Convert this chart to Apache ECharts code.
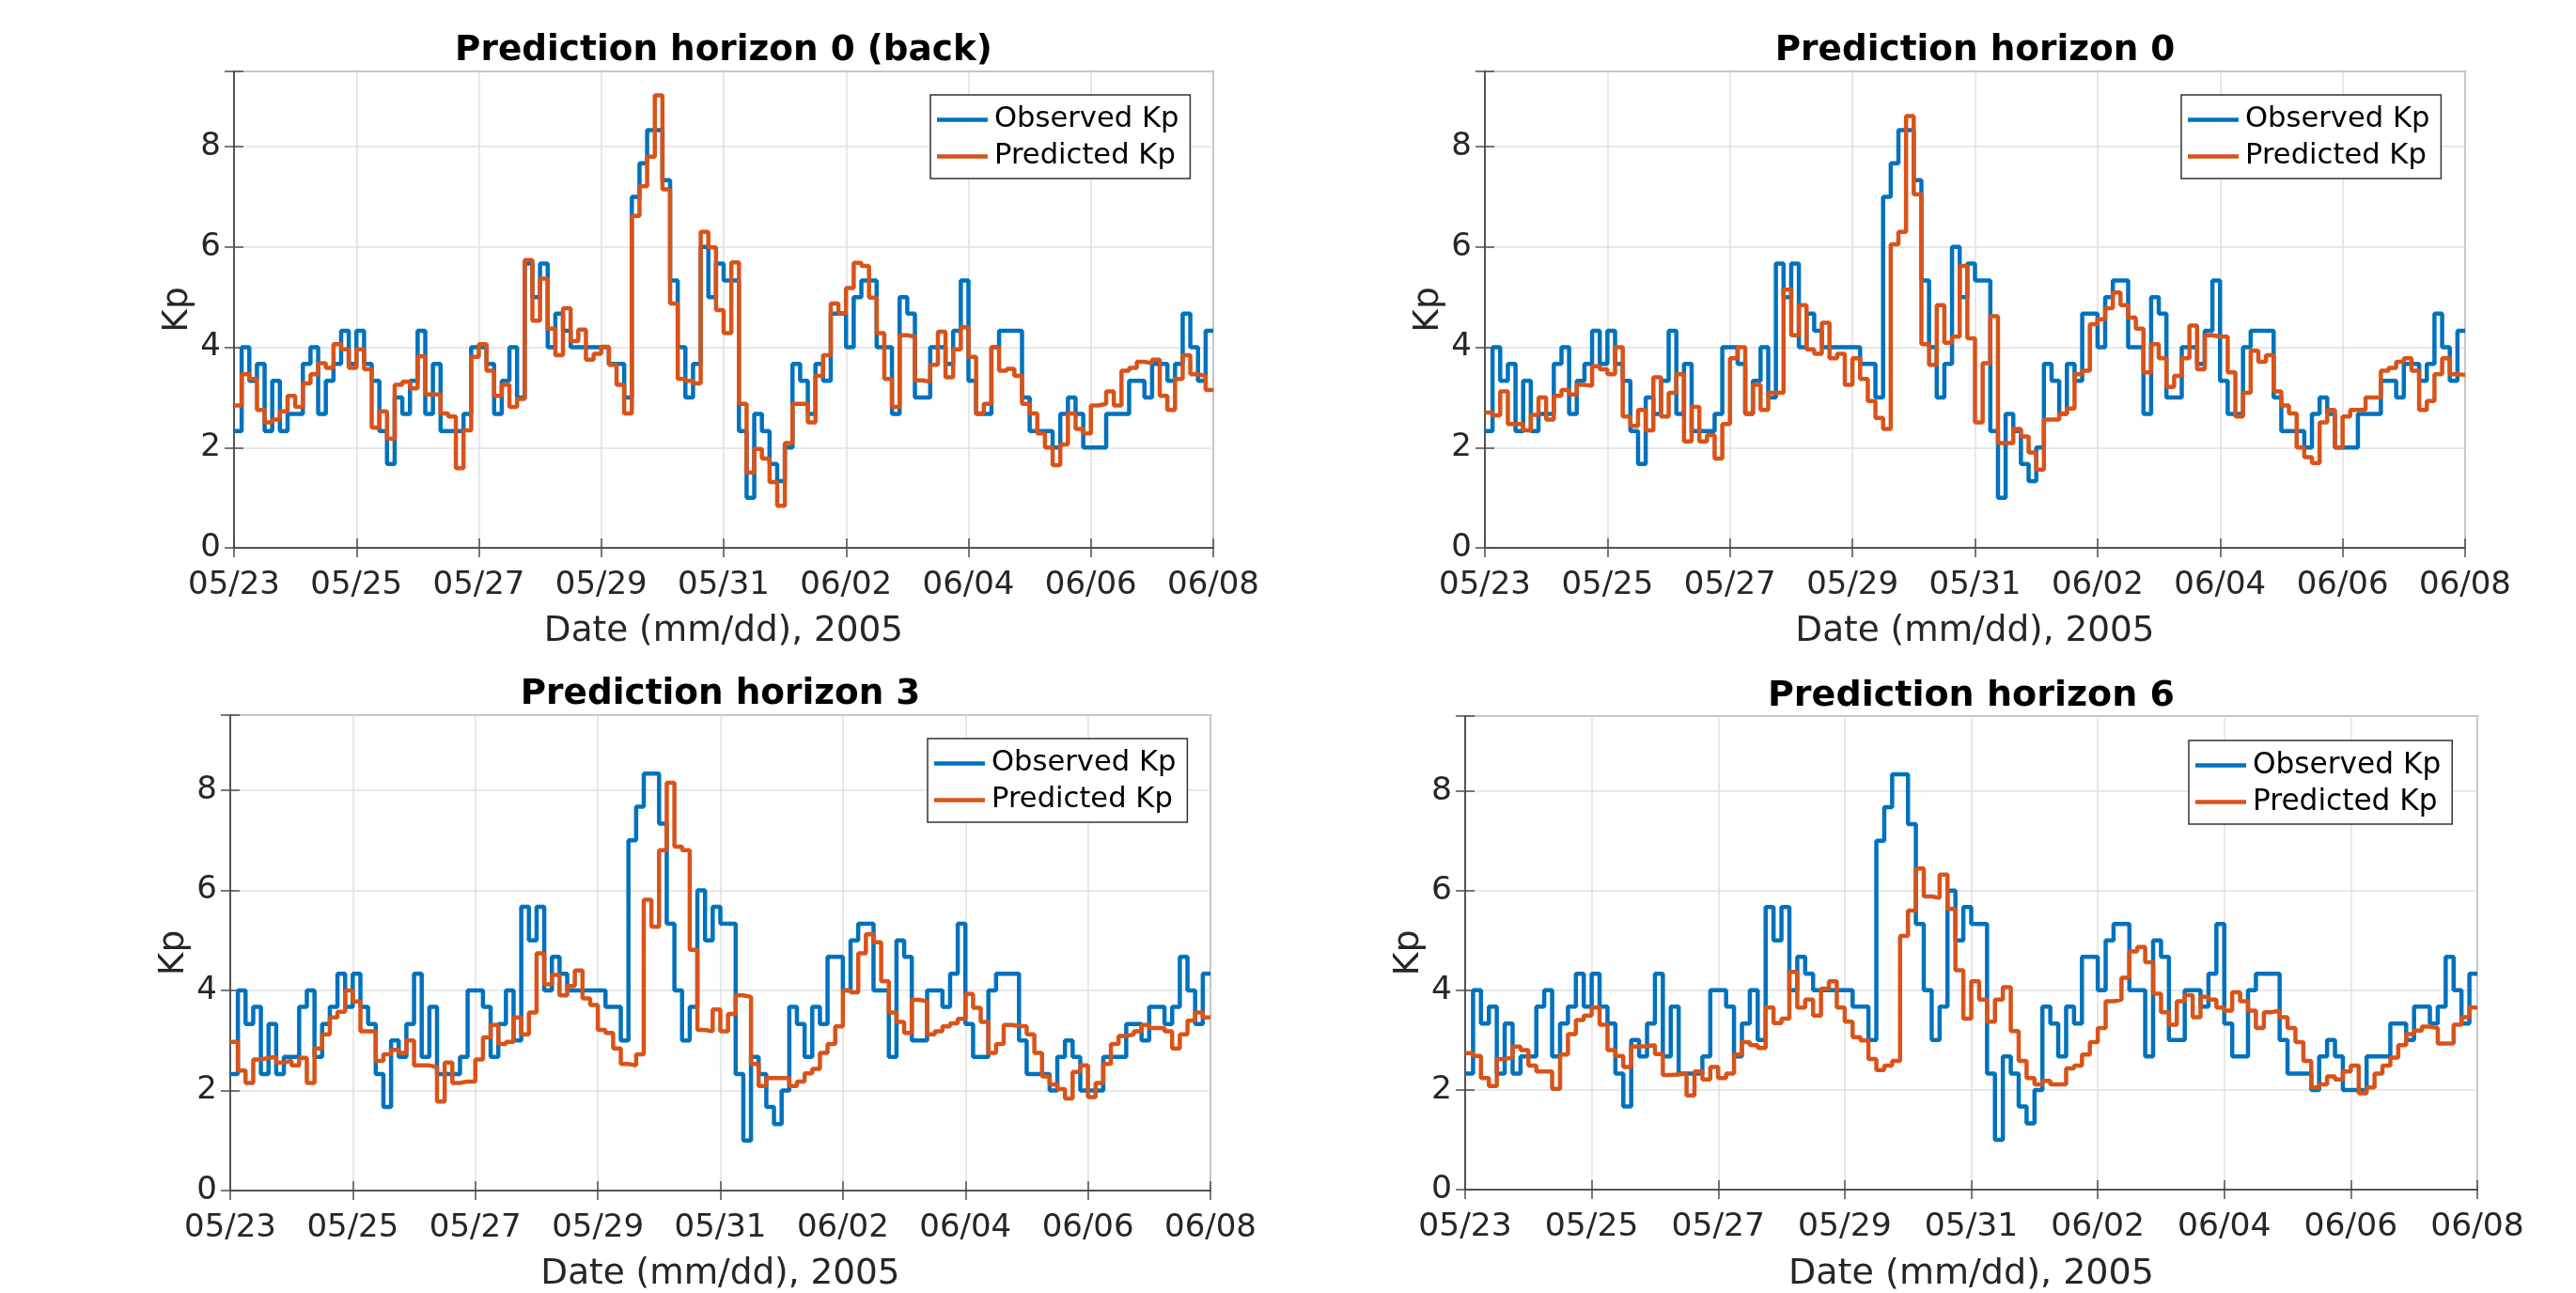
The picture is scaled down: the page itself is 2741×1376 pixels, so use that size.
<!DOCTYPE html>
<html>
<head>
<meta charset="utf-8">
<script src="https://cdn.jsdelivr.net/npm/echarts@6/dist/echarts.min.js"></script>
<style>
  html, body { margin: 0; padding: 0; background: #ffffff; }
  #chart { width: 2741px; height: 1376px; }
</style>
</head>
<body>
<div id="chart"></div>
<script>
// ---- data: 3-hourly Kp, 2005-05-23 00:00 .. 2005-06-08 00:00 (128 intervals) ----
const dateTicks = ['05/23', '05/25', '05/27', '05/29', '05/31', '06/02', '06/04', '06/06', '06/08'];
const kpTicks = [0, 2, 4, 6, 8];
const seriesNames = ['Observed Kp', 'Predicted Kp'];
const panelTitles = ['Prediction horizon 0 (back)', 'Prediction horizon 0', 'Prediction horizon 3', 'Prediction horizon 6'];

const observedKp = [
  2.33, 4.00, 3.33, 3.67, 2.33, 3.33, 2.33, 2.67,
  2.67, 3.67, 4.00, 2.67, 3.33, 3.67, 4.33, 3.67,
  4.33, 3.67, 3.33, 2.33, 1.67, 3.00, 2.67, 3.33,
  4.33, 2.67, 3.67, 2.33, 2.33, 2.33, 2.67, 4.00,
  4.00, 3.67, 2.67, 3.33, 4.00, 3.00, 5.67, 5.00,
  5.67, 4.00, 4.67, 4.33, 4.00, 4.00, 4.00, 4.00,
  4.00, 3.67, 3.67, 3.00, 7.00, 7.67, 8.33, 8.33,
  7.33, 5.33, 4.00, 3.00, 3.67, 6.00, 5.00, 5.67,
  5.33, 5.33, 2.33, 1.00, 2.67, 2.33, 1.67, 1.33,
  2.00, 3.67, 3.33, 2.67, 3.67, 3.33, 4.67, 4.67,
  4.00, 5.00, 5.33, 5.33, 4.00, 4.00, 2.67, 5.00,
  4.67, 3.00, 3.00, 4.00, 4.00, 3.67, 4.33, 5.33,
  3.33, 2.67, 2.67, 4.00, 4.33, 4.33, 4.33, 3.00,
  2.33, 2.33, 2.33, 2.00, 2.67, 3.00, 2.67, 2.00,
  2.00, 2.00, 2.67, 2.67, 2.67, 3.33, 3.33, 3.00,
  3.67, 3.67, 3.33, 3.67, 4.67, 4.00, 3.33, 4.33
];

const predictedBack = [
  2.84, 3.46, 3.37, 2.75, 2.50, 2.56, 2.72, 3.03,
  2.81, 3.28, 3.46, 3.68, 3.59, 4.06, 3.96, 3.59,
  3.96, 3.56, 2.40, 2.72, 2.18, 3.25, 3.31, 3.18,
  3.82, 3.06, 3.06, 2.68, 2.62, 1.59, 2.34, 3.81,
  4.06, 3.53, 3.03, 3.25, 2.81, 2.97, 5.74, 4.53,
  5.37, 4.37, 3.84, 4.78, 4.12, 4.35, 3.75, 3.87,
  4.01, 3.65, 3.25, 2.68, 6.62, 7.21, 7.80, 9.02,
  7.15, 4.87, 3.37, 3.33, 3.28, 6.30, 5.99, 4.74,
  4.28, 5.69, 2.87, 1.50, 1.97, 1.78, 1.31, 0.84,
  2.09, 2.87, 2.87, 2.50, 3.43, 3.84, 4.87, 4.68,
  5.18, 5.68, 5.62, 4.99, 4.28, 3.37, 2.81, 4.24,
  4.21, 3.34, 3.31, 3.65, 4.31, 3.40, 3.96, 4.40,
  3.81, 2.68, 2.87, 4.00, 3.53, 3.57, 3.43, 2.87,
  2.68, 2.28, 2.00, 1.65, 2.06, 2.68, 2.37, 2.28,
  2.84, 2.87, 3.12, 2.84, 3.53, 3.59, 3.71, 3.68,
  3.75, 3.03, 2.75, 3.37, 3.84, 3.46, 3.43, 3.15
];

const predictedH0 = [
  2.70, 2.64, 3.12, 2.47, 2.47, 2.34, 2.65, 3.00,
  2.56, 3.03, 3.15, 3.06, 3.25, 3.23, 3.62, 3.56,
  3.46, 4.00, 2.62, 2.43, 2.75, 2.34, 3.40, 2.62,
  3.09, 3.46, 2.12, 2.81, 2.12, 2.25, 1.78, 2.47,
  3.78, 4.00, 2.68, 3.25, 2.75, 3.09, 3.09, 5.15,
  4.24, 4.84, 3.96, 3.87, 4.49, 3.78, 3.87, 3.25,
  3.78, 3.37, 2.93, 2.59, 2.37, 6.05, 6.30, 8.61,
  7.05, 4.06, 3.65, 4.84, 4.09, 4.21, 5.62, 4.18,
  2.50, 3.68, 4.62, 2.09, 2.09, 2.37, 2.22, 1.90,
  1.56, 2.56, 2.56, 2.68, 2.78, 3.46, 3.53, 4.46,
  4.56, 4.78, 5.09, 4.84, 4.59, 4.37, 3.50, 4.06,
  3.78, 3.21, 3.43, 3.78, 4.43, 3.56, 4.24, 4.21,
  4.21, 3.50, 2.62, 3.09, 3.93, 3.71, 3.84, 3.12,
  2.84, 2.68, 2.00, 1.81, 1.69, 2.50, 2.75, 2.00,
  2.62, 2.75, 2.75, 3.00, 3.00, 3.53, 3.59, 3.71,
  3.78, 3.53, 2.75, 2.93, 3.46, 3.78, 3.46, 3.45
];

const predictedH3 = [
  2.97, 2.40, 2.15, 2.62, 2.65, 2.67, 2.56, 2.59,
  2.50, 2.65, 2.15, 2.84, 3.12, 3.46, 3.57, 4.00,
  3.78, 3.18, 3.18, 2.59, 2.72, 2.81, 2.75, 3.00,
  2.50, 2.50, 2.47, 1.78, 2.56, 2.15, 2.18, 2.18,
  2.62, 3.06, 3.31, 2.93, 2.97, 3.46, 3.12, 3.56,
  4.74, 4.12, 4.31, 3.90, 4.09, 4.40, 3.84, 3.71,
  3.21, 3.15, 2.84, 2.53, 2.50, 2.72, 5.81, 5.27,
  6.80, 8.15, 6.87, 6.80, 4.81, 3.21, 3.18, 3.62,
  3.18, 3.53, 3.90, 3.87, 2.53, 2.09, 2.25, 2.25,
  2.25, 2.09, 2.18, 2.34, 2.43, 2.75, 2.93, 3.28,
  4.00, 3.96, 4.74, 5.12, 4.96, 4.18, 3.56, 3.37,
  3.15, 3.81, 3.78, 3.12, 3.18, 3.28, 3.34, 3.43,
  3.93, 3.65, 3.37, 2.75, 2.93, 3.31, 3.29, 3.28,
  3.12, 2.75, 2.28, 2.12, 2.03, 1.84, 2.37, 2.50,
  1.87, 2.15, 2.53, 2.93, 3.09, 3.12, 3.18, 3.31,
  3.25, 3.25, 3.18, 2.84, 3.12, 3.40, 3.56, 3.46
];

const predictedH6 = [
  2.74, 2.68, 2.24, 2.08, 2.62, 2.65, 2.87, 2.80,
  2.49, 2.37, 2.37, 2.02, 2.71, 3.12, 3.40, 3.49,
  3.65, 3.31, 2.80, 2.68, 2.46, 2.87, 2.88, 2.90,
  2.72, 2.30, 2.31, 2.33, 1.89, 2.37, 2.21, 2.46,
  2.24, 2.33, 2.71, 2.96, 2.90, 2.84, 3.65, 3.34,
  3.43, 4.37, 3.65, 3.81, 3.49, 4.03, 4.18, 3.65,
  3.37, 3.06, 2.99, 2.62, 2.40, 2.49, 2.58, 5.09,
  5.60, 6.44, 5.88, 5.85, 6.32, 5.63, 4.40, 3.43,
  4.18, 3.81, 3.37, 3.81, 4.06, 3.18, 2.58, 2.24,
  2.11, 2.18, 2.11, 2.11, 2.43, 2.49, 2.71, 2.96,
  3.24, 3.78, 3.81, 4.25, 4.78, 4.87, 4.56, 3.93,
  3.56, 3.31, 3.78, 3.90, 3.46, 3.87, 3.81, 3.65,
  3.59, 3.96, 3.78, 3.59, 3.24, 3.56, 3.59, 3.46,
  3.24, 2.96, 2.58, 2.05, 2.11, 2.27, 2.21, 2.37,
  2.49, 1.93, 2.05, 2.33, 2.49, 2.65, 2.90, 3.12,
  3.19, 3.27, 3.24, 2.93, 2.93, 3.31, 3.46, 3.65
];

const predictedByPanel = [predictedBack, predictedH0, predictedH3, predictedH6];

// ---- layout (pixels) ----
const FONT = 'DejaVu Sans';
const BLUE = '#0072BD';
const ORANGE = '#D95319';
const AXIS = '#4d4d4d';
const GRIDLINE = '#e1e1e1';
const STEPS_PER_DAY = 8;
const DAYS = 16;

const panels = [
  { left: 249, top: 76, width: 1042, height: 507, legend: [990, 101], font: 34, legendFont: 30.6 },
  { left: 1580, top: 76, width: 1043, height: 507, legend: [2321, 101], font: 34, legendFont: 30.6 },
  { left: 245, top: 761, width: 1043, height: 507, legend: [987, 786], font: 34, legendFont: 30.6 },
  { left: 1559, top: 762, width: 1077, height: 506, legend: [2329, 788], font: 34.6, legendFont: 31.2 }
];

// MATLAB-style stairs: each 3-hour value holds until the next sample;
// the last interval is closed at the end of the time range.
function stairs(values) {
  const pts = values.map((v, k) => [k / STEPS_PER_DAY, v]);
  pts.push([values.length / STEPS_PER_DAY, values[values.length - 1]]);
  return pts;
}

const grid = [], xAxis = [], yAxis = [], series = [], title = [], legend = [];

panels.forEach((p, i) => {
  grid.push({
    left: p.left, top: p.top, width: p.width, height: p.height,
    show: true, borderColor: AXIS, borderWidth: 1.5, backgroundColor: '#ffffff'
  });
  title.push({
    text: panelTitles[i],
    left: p.left + p.width / 2, top: p.top - 40, textAlign: 'center', padding: 0,
    textStyle: { fontFamily: FONT, fontSize: p.font * 1.1, fontWeight: 'bold', color: '#000000' }
  });
  const tickStyle = { show: true, inside: true, length: 10, lineStyle: { color: AXIS, width: 1.5 } };
  const lineStyle = { show: true, lineStyle: { color: AXIS, width: 1.5 } };
  xAxis.push({
    gridIndex: i, type: 'value', position: 'bottom', min: 0, max: DAYS, interval: 2,
    axisLine: lineStyle, axisTick: tickStyle,
    axisLabel: {
      fontFamily: FONT, fontSize: p.font, color: '#262626', margin: 23,
      formatter: v => dateTicks[Math.round(v / 2)] || ''
    },
    splitLine: { show: true, lineStyle: { color: GRIDLINE, width: 1.5 } },
    name: 'Date (mm/dd), 2005', nameLocation: 'middle', nameGap: 71,
    nameTextStyle: { fontFamily: FONT, fontSize: p.font * 1.1, color: '#262626' }
  });
  xAxis.push({
    gridIndex: i, type: 'value', position: 'top', min: 0, max: DAYS, interval: 2,
    axisLine: lineStyle, axisTick: tickStyle, axisLabel: { show: false }, splitLine: { show: false }
  });
  yAxis.push({
    gridIndex: i, type: 'value', position: 'left', min: 0, max: 9.5, interval: 2,
    axisLine: lineStyle, axisTick: tickStyle,
    axisLabel: {
      fontFamily: FONT, fontSize: p.font, color: '#262626', margin: 14,
      formatter: v => (kpTicks.indexOf(v) >= 0 ? String(v) : '')
    },
    splitLine: { show: true, lineStyle: { color: GRIDLINE, width: 1.5 } },
    name: 'Kp', nameLocation: 'middle', nameGap: 41,
    nameTextStyle: { fontFamily: FONT, fontSize: p.font * 1.1, color: '#262626' }
  });
  yAxis.push({
    gridIndex: i, type: 'value', position: 'right', min: 0, max: 9.5, interval: 2,
    axisLine: lineStyle, axisTick: tickStyle, axisLabel: { show: false }, splitLine: { show: false }
  });

  series.push({
    name: seriesNames[0], type: 'line', step: 'end', symbol: 'none',
    xAxisIndex: 2 * i, yAxisIndex: 2 * i, data: stairs(observedKp),
    lineStyle: { color: BLUE, width: 4.5 }, itemStyle: { color: BLUE }, z: 3
  });
  series.push({
    name: seriesNames[1], type: 'line', step: 'end', symbol: 'none',
    xAxisIndex: 2 * i, yAxisIndex: 2 * i, data: stairs(predictedByPanel[i]),
    lineStyle: { color: ORANGE, width: 4.5 }, itemStyle: { color: ORANGE }, z: 4
  });

  legend.push({
    data: seriesNames, orient: 'vertical', left: p.legend[0], top: p.legend[1],
    icon: 'rect', itemWidth: 54, itemHeight: 4.5, itemGap: 8,
    padding: [11, 12, 8, 7], backgroundColor: '#ffffff',
    borderColor: '#333333', borderWidth: 1.5, borderRadius: 0,
    selectedMode: false,
    textStyle: { fontFamily: FONT, fontSize: p.legendFont, color: '#000000', padding: [0, 0, 0, 2] }
  });
});

const chart = echarts.init(document.getElementById('chart'), null, { renderer: 'canvas' });
chart.setOption({
  animation: false,
  backgroundColor: '#ffffff',
  title, legend, grid, xAxis, yAxis, series
});
</script>
</body>
</html>
